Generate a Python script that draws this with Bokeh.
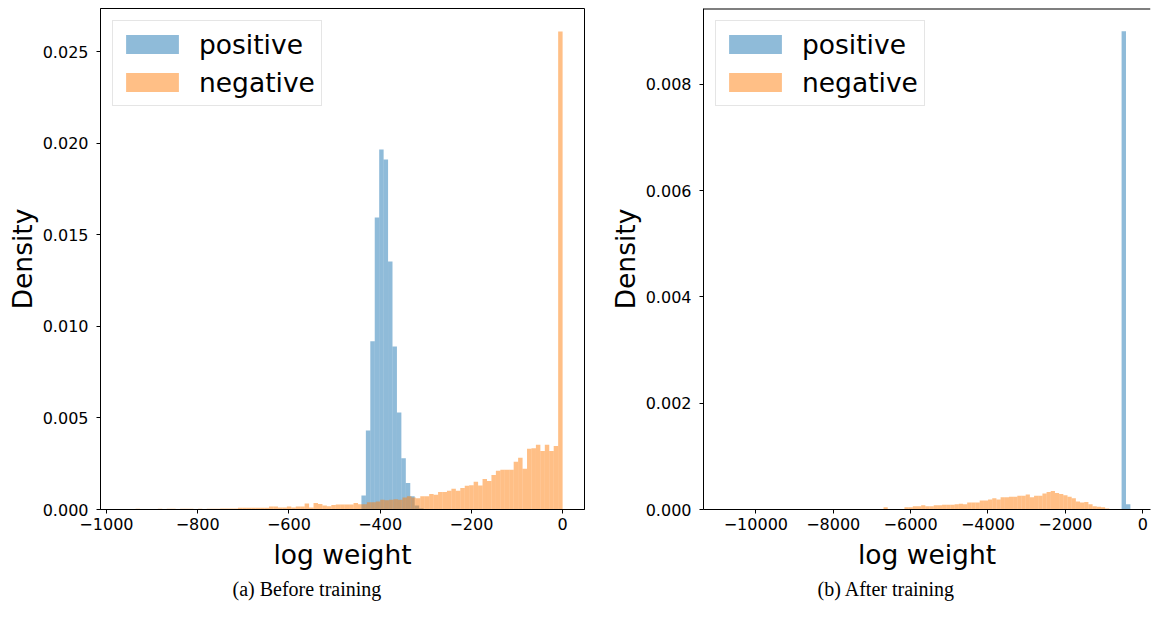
import numpy as np
from bokeh.plotting import figure
from bokeh.models import (FixedTicker, CustomJSTickFormatter, Legend, LegendItem,
                          Title, Range1d, Span)
from bokeh.layouts import row
from bokeh.embed import file_html
from bokeh.resources import INLINE

# ---------------- data: (a) Before training ----------------
neg_a_start, neg_a_width = -936.0, 9.75
neg_a_density = [
    0.00004, 0, 0, 0, 0, 0.00004, 0, 0.00004, 0.00004, 0,
    0.00004, 0.00004, 0.00004, 0, 0.00004, 0, 0.00004, 0.00004, 0.00004, 0.00005,
    0.00005, 0.00005, 0.00005, 0.00009, 0.00009, 0.00009, 0.00009, 0.00009, 0.00009, 0.00009,
    0.00016, 0.00016, 0.00011, 0.00011, 0.00016, 0.00011, 0.00016, 0.00016, 0.00033, 0.00011,
    0.00036, 0.00030, 0.00022, 0.00018, 0.00024, 0.00027, 0.00027, 0.00027, 0.00027, 0.00036,
    0.00029, 0.00029, 0.00040, 0.00040, 0.00044, 0.00053, 0.00050, 0.00053, 0.00056, 0.00053,
    0.00065, 0.00073, 0.00065, 0.00062, 0.00073, 0.00073, 0.00084, 0.00080, 0.00096, 0.00096,
    0.00102, 0.00113, 0.00102, 0.00118, 0.00129, 0.00133, 0.00151, 0.00131, 0.00166, 0.00156,
    0.00189, 0.00211, 0.00217, 0.00217, 0.00217, 0.00260, 0.00282, 0.00222, 0.00331, 0.00335,
    0.00353, 0.00320, 0.00353, 0.00320, 0.00347, 0.02610,
]
pos_a_start, pos_a_width = -441.0, 9.73
pos_a_density = [0.00076, 0.00431, 0.00919, 0.01594, 0.01965, 0.01910, 0.01354, 0.00890,
                 0.00530, 0.00280, 0.00144, 0.00073, 0.00022, 0.00007, 0.00003]

# ---------------- data: (b) After training ----------------
neg_b_start, neg_b_width = -8104.5, 108.06
neg_b_density = [
    0.00001, 0, 0, 0, 0.00001, 0.00001, 0.00001, 0, 0, 0.00001,
    0.00001, 0.00001, 0.00001, 0.00004, 0.00001, 0.00001, 0.00001, 0.00001, 0.00004, 0.00004,
    0.00006, 0.00006, 0.00008, 0.00006, 0.00006, 0.00008, 0.00008, 0.00009, 0.00009, 0.00009,
    0.00010, 0.00011, 0.00010, 0.00013, 0.00013, 0.00013, 0.00017, 0.00017, 0.00019, 0.00021,
    0.00019, 0.00023, 0.00023, 0.00024, 0.00024, 0.00026, 0.00026, 0.00028, 0.00023, 0.00026,
    0.00026, 0.00030, 0.00033, 0.00035, 0.00031, 0.00029, 0.00027, 0.00024, 0.00021, 0.00015,
    0.00013, 0.00014, 0.00010, 0.00006, 0.00005, 0.00004, 0.00002, 0.00001,
]
pos_b_start, pos_b_width = -547.0, 113.5
pos_b_density = [0.00900, 0.00010]

series_labels = ["positive", "negative"]
captions = ["(a) Before training", "(b) After training"]
x_label = "log weight"
y_label = "Density"

xticks_a = [-1000, -800, -600, -400, -200, 0]
yticks_a = [0.0, 0.005, 0.010, 0.015, 0.020, 0.025]
xticks_b = [-10000, -8000, -6000, -4000, -2000, 0]
yticks_b = [0.0, 0.002, 0.004, 0.006, 0.008]

BLUE = "#1f77b4"
ORANGE = "#ff7f0e"
SANS = "DejaVu Sans"
SERIF = "Liberation Serif"


def edges(start, width, n):
    left = start + width * np.arange(n)
    return left, left + width


def minus_fmt():
    return CustomJSTickFormatter(code="""
        var s = (Math.abs(tick) < 1e-9) ? '0' : tick.toFixed(0);
        return s.replace('-', '\u2212');
    """)


def make_panel(pos_start, pos_w, pos_d, neg_start, neg_w, neg_d, xr, yr,
               xticks, yticks, caption, width, min_left, min_right, full_outline,
               cap_offset):
    p = figure(width=width, height=602, x_range=Range1d(*xr), y_range=Range1d(*yr),
               output_backend="svg", toolbar_location=None,
               min_border_left=min_left, min_border_right=min_right,
               min_border_top=8, min_border_bottom=93)
    p.grid.visible = False
    p.background_fill_color = "white"
    p.border_fill_color = "white"

    pl, pr = edges(pos_start, pos_w, len(pos_d))
    r_pos = p.quad(left=pl, right=pr, bottom=0, top=pos_d, fill_color=BLUE,
                   fill_alpha=0.5, line_color=None)
    nl, nr = edges(neg_start, neg_w, len(neg_d))
    r_neg = p.quad(left=nl, right=nr, bottom=0, top=neg_d, fill_color=ORANGE,
                   fill_alpha=0.5, line_color=None)

    xax = p.xaxis[0]
    yax = p.yaxis[0]
    for ax in (xax, yax):
        ax.axis_line_color = "black"
        ax.major_tick_line_color = "black"
        ax.minor_tick_line_color = None
        ax.major_tick_in = 0
        ax.major_tick_out = 4
        ax.major_label_text_font = SANS
        ax.major_label_text_font_size = "16px"
        ax.major_label_text_color = "black"
        ax.axis_label_text_font = SANS
        ax.axis_label_text_font_size = "26.5px"
        ax.axis_label_text_font_style = "normal"
        ax.axis_label_text_color = "black"
    xax.major_label_standoff = 4
    yax.major_label_standoff = 8
    xax.axis_label = x_label
    yax.axis_label = y_label
    xax.axis_label_standoff = 6
    yax.axis_label_standoff = 2
    xax.ticker = FixedTicker(ticks=xticks)
    yax.ticker = FixedTicker(ticks=yticks)
    xax.formatter = minus_fmt()
    yax.formatter = CustomJSTickFormatter(code="return tick.toFixed(3);")

    if full_outline:
        p.outline_line_color = "black"
        p.outline_line_width = 1
        p.outline_line_alpha = 1
    else:
        p.outline_line_color = None
        p.add_layout(Span(location=yr[1], dimension="width", line_color="black",
                          line_width=2))

    legend = Legend(items=[LegendItem(label=series_labels[0], renderers=[r_pos]),
                           LegendItem(label=series_labels[1], renderers=[r_neg])],
                    location="top_left", margin=12, padding=6, spacing=4,
                    glyph_width=66, glyph_height=24, label_standoff=14,
                    label_height=34,
                    label_text_font=SANS, label_text_font_size="26.5px",
                    label_text_color="black",
                    border_line_color="#cccccc", border_line_width=1,
                    background_fill_color="white", background_fill_alpha=0.8)
    p.add_layout(legend)

    p.add_layout(Title(text=caption, align="left", text_font=SERIF,
                       text_font_size="20px", text_font_style="normal",
                       text_color="black", offset=cap_offset, standoff=6), "below")
    return p


p1 = make_panel(pos_a_start, pos_a_width, pos_a_density,
                neg_a_start, neg_a_width, neg_a_density,
                (-1013, 48), (0, 0.02735), xticks_a, yticks_a, captions[0],
                592, 100, 8, True, 132)
p2 = make_panel(pos_b_start, pos_b_width, pos_b_density,
                neg_b_start, neg_b_width, neg_b_density,
                (-11353, 200), (0, 0.009426), xticks_b, yticks_b, captions[1],
                562, 111, 4, False, 114)

layout = row(p1, p2, spacing=0)
open("out.html", "w").write(file_html(layout, INLINE))
